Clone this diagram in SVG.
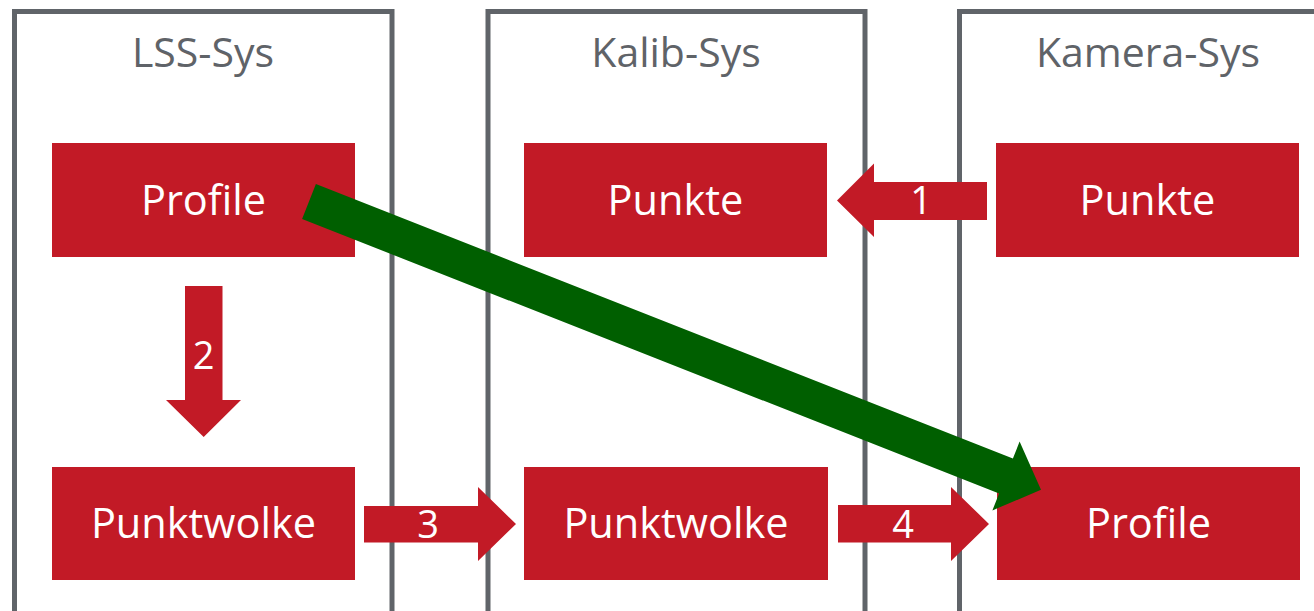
<svg xmlns="http://www.w3.org/2000/svg" width="1314" height="611" viewBox="0 0 1314 611">
<style>
.sys{fill:none;stroke:#606469;stroke-width:5}
.title{font-family:"Open Sans","Liberation Sans",sans-serif;font-size:41px;fill:#5f6368;text-anchor:middle}
.node{fill:#c21a26}
.ntext{font-family:"Open Sans","Liberation Sans",sans-serif;font-size:41.5px;fill:#ffffff;text-anchor:middle}
.arrow{fill:#c21a26}
.num{font-family:"Open Sans","Liberation Sans",sans-serif;font-size:38px;fill:#ffffff;text-anchor:middle}
</style>
<rect width="1314" height="611" fill="#ffffff"/>
<g id="lss-sys">
<rect class="sys" x="14.5" y="11.5" width="377.5" height="620"/>
<text class="title" x="203" y="67">LSS-Sys</text>
</g>
<g id="kalib-sys">
<rect class="sys" x="488" y="11.5" width="377" height="620"/>
<text class="title" x="676" y="67">Kalib-Sys</text>
</g>
<g id="kamera-sys">
<rect class="sys" x="959.5" y="11.5" width="400" height="620"/>
<text class="title" x="1148" y="67">Kamera-Sys</text>
</g>
<g id="lss-profile">
<rect class="node" x="52" y="143" width="303" height="114"/>
<text class="ntext" x="203.5" y="215">Profile</text>
</g>
<g id="kalib-punkte">
<rect class="node" x="524" y="143" width="303" height="114"/>
<text class="ntext" x="675.5" y="215">Punkte</text>
</g>
<g id="kamera-punkte">
<rect class="node" x="996" y="143" width="303" height="114"/>
<text class="ntext" x="1147.5" y="215">Punkte</text>
</g>
<g id="lss-punktwolke">
<rect class="node" x="52" y="467" width="303" height="113"/>
<text class="ntext" x="203.5" y="538">Punktwolke</text>
</g>
<g id="kalib-punktwolke">
<rect class="node" x="524" y="467" width="304" height="113"/>
<text class="ntext" x="676" y="538">Punktwolke</text>
</g>
<g id="kamera-profile">
<rect class="node" x="997" y="467" width="303" height="113"/>
<text class="ntext" x="1148.5" y="538">Profile</text>
</g>
<g id="connectors">
<polygon class="arrow" points="987,182 874,182 874,163.5 837,200.5 874,237 874,220 987,220"/>
<text class="num" x="921" y="214">1</text>
<polygon class="arrow" points="185,286 222.5,286 222.5,400 241,400 203.7,437 166,400 185,400"/>
<text class="num" x="203.5" y="369">2</text>
<polygon class="arrow" points="364,506 478,506 478,487 516,524 478,561 478,542.5 364,542.5"/>
<text class="num" x="428" y="538">3</text>
<polygon class="arrow" points="838,505 951,505 951,487 989,524 951,561 951,542.5 838,542.5"/>
<text class="num" x="903" y="538">4</text>
<polygon fill="#005f00" points="315.9,184 1012.9,458.5 1019.6,441.6 1041,489.8 992.4,510.4 999.1,493.5 302.1,219"/>
</g>
</svg>
